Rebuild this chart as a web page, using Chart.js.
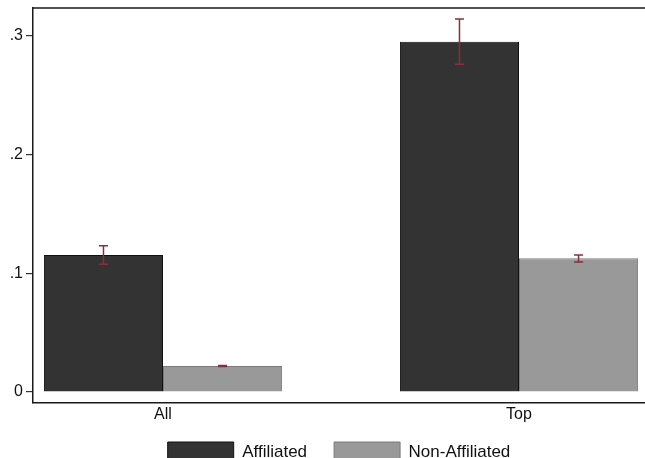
<!DOCTYPE html>
<html>
<head>
<meta charset="utf-8">
<script src="https://cdn.jsdelivr.net/npm/chart.js@4"></script>
<style>
  html, body { margin: 0; padding: 0; background: #fff; overflow: hidden; }
  #wrap { position: relative; width: 645px; height: 472px; }
</style>
</head>
<body>
<div id="wrap"><canvas id="chart1"></canvas></div>
<script>
var categories = ['All', 'Top'];
var seriesNames = ['Affiliated', 'Non-Affiliated'];
var affiliated = [0.1154, 0.2952];
var affiliatedLo = [0.1076, 0.2761];
var affiliatedHi = [0.1233, 0.3143];
var nonAffiliated = [0.0219, 0.1127];
var nonAffiliatedLo = [0.0215, 0.1095];
var nonAffiliatedHi = [0.0223, 0.1154];
var yTicks = [0, 0.1, 0.2, 0.3];

var errLo = [affiliatedLo, nonAffiliatedLo];
var errHi = [affiliatedHi, nonAffiliatedHi];

function toPoints(arr) {
    return arr.map(function(v, i) { return { x: i, y: v }; });
}

// red ci whiskers, top frame line, and the category labels under the axis
var extras = {
    id: 'extras',
    afterDatasetsDraw: function(chart) {
        var ctx = chart.ctx;
        var yScale = chart.scales.y;
        ctx.save();
        ctx.strokeStyle = '#8b2e3c';
        ctx.lineWidth = 1.5;
        chart.data.datasets.forEach(function(ds, i) {
            var meta = chart.getDatasetMeta(i);
            meta.data.forEach(function(bar, j) {
                var x = bar.x;
                var top = yScale.getPixelForValue(errHi[i][j]);
                var bot = yScale.getPixelForValue(errLo[i][j]);
                ctx.beginPath();
                ctx.moveTo(x, top);
                ctx.lineTo(x, bot);
                ctx.moveTo(x - 4.5, top);
                ctx.lineTo(x + 4.5, top);
                ctx.moveTo(x - 4.5, bot);
                ctx.lineTo(x + 4.5, bot);
                ctx.stroke();
            });
        });
        var a = chart.chartArea;
        ctx.strokeStyle = '#1a1a1a';
        ctx.lineWidth = 1.5;
        ctx.beginPath();
        ctx.moveTo(a.left, a.top);
        ctx.lineTo(a.right, a.top);
        ctx.stroke();

        var xScale = chart.scales.x;
        ctx.fillStyle = '#111';
        ctx.font = '16px "Liberation Sans"';
        ctx.textAlign = 'center';
        ctx.textBaseline = 'alphabetic';
        categories.forEach(function(c, i) {
            ctx.fillText(c, xScale.getPixelForValue(i), a.bottom + 16);
        });
        ctx.restore();
    }
};

var ctx = document.getElementById('chart1');
var myChart = new Chart(ctx, {
    type: 'bar',
    data: {
        datasets: [{
            label: seriesNames[0],
            data: toPoints(affiliated),
            backgroundColor: '#333333',
            borderColor: '#111111',
            borderWidth: 1
        }, {
            label: seriesNames[1],
            data: toPoints(nonAffiliated),
            backgroundColor: '#999999',
            borderColor: '#7a7a7a',
            borderWidth: 1
        }]
    },
    options: {
        responsive: true,
        maintainAspectRatio: false,
        animation: false,
        categoryPercentage: 0.669,
        barPercentage: 1,
        layout: {
            padding: { top: 8, left: 0, right: 0, bottom: 0 }
        },
        plugins: {
            legend: {
                position: 'bottom',
                fullSize: false,
                labels: {
                    boxWidth: 66,
                    boxHeight: 20,
                    padding: 27,
                    color: '#111',
                    font: { family: 'Liberation Sans', size: 17 }
                }
            },
            tooltip: { enabled: false }
        },
        scales: {
            x: {
                type: 'linear',
                offset: false,
                min: -0.3652,
                max: 1.3539,
                afterBuildTicks: function(s) {
                    s.ticks = categories.map(function(c, i) { return { value: i }; });
                },
                afterFit: function(s) {
                    s.height = 12;
                    s.paddingLeft = 0;
                    s.paddingRight = 0;
                },
                grid: { display: false, drawTicks: false },
                border: { display: true, color: '#1a1a1a', width: 1.5 },
                ticks: { display: false }
            },
            y: {
                min: -0.00927,
                max: 0.3236,
                afterBuildTicks: function(s) {
                    s.ticks = yTicks.map(function(v) { return { value: v }; });
                },
                afterFit: function(s) {
                    s.width = 33;
                    s.paddingTop = 0;
                    s.paddingBottom = 0;
                },
                grid: { drawOnChartArea: false, drawTicks: true, tickLength: 7, color: '#333', lineWidth: 1.2 },
                border: { display: true, color: '#1a1a1a', width: 1.5 },
                ticks: {
                    padding: 3,
                    color: '#111',
                    font: { family: 'Liberation Sans', size: 16 },
                    callback: function(v) {
                        return v === 0 ? '0' : String(v).replace(/^0/, '');
                    }
                }
            }
        }
    },
    plugins: [extras]
});
</script>
</body>
</html>
